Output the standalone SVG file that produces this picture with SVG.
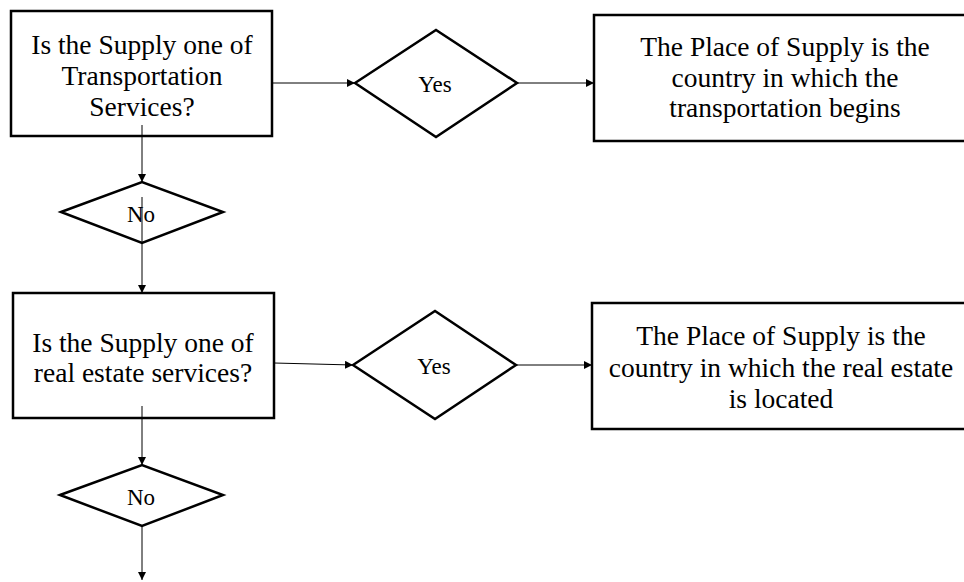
<svg xmlns="http://www.w3.org/2000/svg" width="964" height="582" viewBox="0 0 964 582">
  <defs>
    <marker id="arrow" viewBox="0 0 10 10" refX="10" refY="5" markerWidth="8" markerHeight="8" markerUnits="userSpaceOnUse" orient="auto">
      <path d="M0,0 L10,5 L0,10 Z" fill="#000"/>
    </marker>
    <style>
      .box { fill: #fff; stroke: #000; stroke-width: 2.5; }
      .dia { fill: #fff; stroke: #000; stroke-width: 2.5; }
      .link { fill: none; stroke: #000; stroke-width: 1; marker-end: url(#arrow); }
      text { font-family: "Liberation Serif", "DejaVu Serif", serif; font-size: 27.5px; fill: #000; text-anchor: middle; }
      .small { font-size: 23px; }
    </style>
  </defs>
  <rect width="964" height="582" fill="#fff"/>

  <g id="q-transport">
    <rect class="box" x="11" y="11" width="261" height="125"/>
    <text x="142" y="54">Is the Supply one of</text>
    <text x="142" y="85">Transportation</text>
    <text x="142" y="116">Services?</text>
  </g>

  <g id="yes-transport">
    <polygon class="dia" points="355,83 436,30 517,83 436,137"/>
    <text class="small" x="435" y="92">Yes</text>
  </g>

  <g id="place-transport">
    <rect class="box" x="594" y="15" width="382" height="126"/>
    <text x="785" y="56">The Place of Supply is the</text>
    <text x="785" y="87">country in which the</text>
    <text x="785" y="117">transportation begins</text>
  </g>

  <g id="no-transport">
    <polygon class="dia" points="61,212 142,182 223,212 142,243"/>
    <text class="small" x="141" y="222">No</text>
  </g>

  <g id="q-realestate">
    <rect class="box" x="13" y="293" width="261" height="125"/>
    <text x="143" y="352">Is the Supply one of</text>
    <text x="143" y="382">real estate services?</text>
  </g>

  <g id="yes-realestate">
    <polygon class="dia" points="353,365 435,311 516,365 435,419"/>
    <text class="small" x="434" y="374">Yes</text>
  </g>

  <g id="place-realestate">
    <rect class="box" x="592" y="303" width="379" height="126"/>
    <text x="781" y="345">The Place of Supply is the</text>
    <text x="781" y="377">country in which the real estate</text>
    <text x="781" y="408">is located</text>
  </g>

  <g id="no-realestate">
    <polygon class="dia" points="60,495 142,465 223,495 142,526"/>
    <text class="small" x="141" y="505">No</text>
  </g>

  <g id="connectors">
    <line class="link" x1="272" y1="83" x2="355" y2="83"/>
    <line class="link" x1="517" y1="83" x2="594" y2="83"/>
    <line class="link" x1="142" y1="125" x2="142" y2="182"/>
    <line class="link" x1="142" y1="197" x2="142" y2="293"/>
    <line class="link" x1="274" y1="363" x2="353" y2="365"/>
    <line class="link" x1="516" y1="365" x2="592" y2="365"/>
    <line class="link" x1="142" y1="406" x2="142" y2="465"/>
    <line class="link" x1="142" y1="526" x2="142" y2="580"/>
  </g>
</svg>
